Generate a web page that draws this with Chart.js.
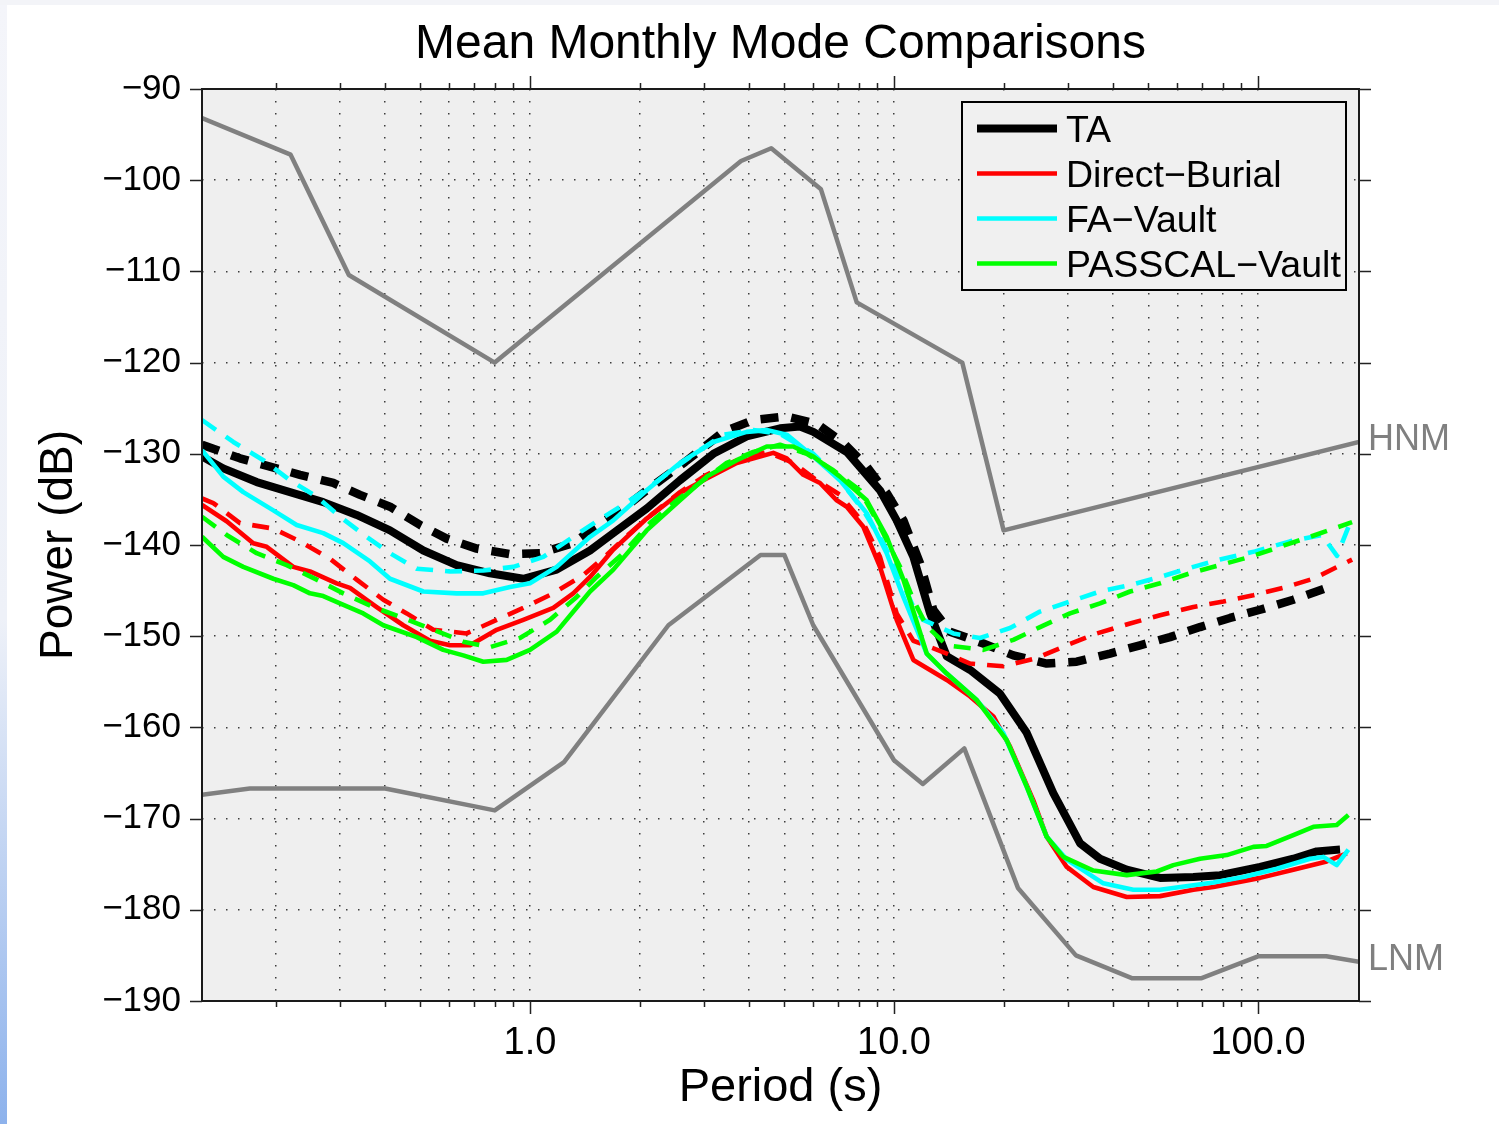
<!DOCTYPE html>
<html>
<head>
<meta charset="utf-8">
<script src="https://cdn.jsdelivr.net/npm/chart.js@4/dist/chart.umd.min.js"></script>
<style>
html,body{margin:0;padding:0;background:#fff;}
#wrap{position:relative;width:1499px;height:1124px;overflow:hidden;}
#lstrip{position:absolute;left:0;top:0;width:7px;height:1124px;background:linear-gradient(#f4f5fa,#eef1f8 55%,#8db2ec);}
#tstrip{position:absolute;left:0;top:0;width:1499px;height:5px;background:#f3f4f8;}
canvas{position:absolute;left:0;top:0;}
</style>
</head>
<body>
<div id="wrap"><div id="lstrip"></div><div id="tstrip"></div><canvas id="c" width="1499" height="1124"></canvas></div>
<script>
// ---------- axis ticks ----------
const xTickValues = [0.2,0.3,0.4,0.5,0.6,0.7,0.8,0.9,1,2,3,4,5,6,7,8,9,10,20,30,40,50,60,70,80,90,100];
const xTickLabels = ['','','','','','','','','1.0','','','','','','','','','10.0','','','','','','','','','100.0'];
const yTickLabels = ['\u2212190','\u2212180','\u2212170','\u2212160','\u2212150','\u2212140','\u2212130','\u2212120','\u2212110','\u2212100','\u221290'];
const legendNames = ['TA','Direct\u2212Burial','FA\u2212Vault','PASSCAL\u2212Vault'];

// ---------- noise models ----------
const hnmP = [0.1256,0.22,0.318,0.8,3.8,4.6,6.3,7.9,15.4,20.0,189.4];
const hnmV = [-93.2,-97.2,-110.4,-120.0,-97.9,-96.5,-101.0,-113.4,-120.0,-138.4,-128.7];
const lnmP = [0.1256,0.17,0.4,0.8,1.24,2.4,4.3,5.0,6.0,10.0,12.0,15.6,21.9,31.6,45,70,100,154,189.4];
const lnmV = [-167.4,-166.7,-166.7,-169.1,-163.8,-148.8,-141.1,-141.1,-148.8,-163.6,-166.2,-162.3,-177.6,-185.0,-187.5,-187.5,-185.1,-185.1,-185.7];

// ---------- TA ----------
const taP = [0.1256,0.1437,0.1775,0.2191,0.2705,0.3341,0.4125,0.5093,0.6289,0.7764,0.9585,1.184,1.462,1.694,2.092,2.583,3.189,3.938,4.862,5.518,6.003,7.416,9.152,10.17,11.30,12.56,13.96,16.18,19.55,23.15,27.39,32.43,36.81,43.59,53.80,66.44,78.64,101.3,125.0,145.0,168.0];
const taV = [-130.3,-131.6,-133.1,-134.2,-135.3,-136.7,-138.4,-140.6,-142.2,-143.1,-143.7,-142.7,-140.6,-138.7,-136.0,-132.9,-130.0,-128.1,-127.2,-127.0,-127.6,-129.8,-134.0,-137.3,-141.3,-147.5,-152.2,-153.7,-156.3,-160.6,-167.2,-172.7,-174.4,-175.6,-176.5,-176.4,-176.2,-175.3,-174.4,-173.6,-173.4];
const taDP = [0.1256,0.1597,0.2334,0.2882,0.3412,0.4125,0.4988,0.5904,0.7138,0.8814,1.065,1.315,1.492,1.804,2.092,2.666,3.396,4.107,5.073,6.133,7.257,8.414,9.548,10.61,11.79,12.82,14.25,17.59,21.27,26.27,31.76,39.21,47.41,57.31,69.29,83.78,101.3,125.0,154.4];
const taDV = [-129.0,-130.5,-132.3,-133.2,-134.5,-135.8,-137.8,-139.3,-140.4,-141.0,-140.9,-139.8,-138.2,-136.0,-134.0,-130.9,-127.6,-126.3,-125.9,-126.7,-128.8,-131.4,-134.3,-137.3,-142.0,-147.1,-149.5,-150.8,-152.1,-153.0,-152.8,-151.9,-151.0,-150.1,-149.0,-148.0,-147.1,-146.0,-144.7];

// ---------- Direct-Burial ----------
const dbP = [0.1256,0.1468,0.1737,0.1891,0.2237,0.2487,0.2944,0.3202,0.3792,0.4487,0.5313,0.6028,0.6842,0.8100,0.9585,1.159,1.315,1.462,1.694,2.092,2.583,3.059,3.698,4.284,4.660,5.073,5.634,6.262,6.961,7.416,8.236,9.152,10.17,11.30,12.56,13.96,16.18,18.75,20.83,24.14,26.27,29.82,35.28,43.59,53.80,66.44,75.40,101.3,125.0,154.4,175.3];
const dbV = [-135.6,-137.4,-139.8,-140.2,-142.4,-142.9,-144.2,-144.7,-146.8,-148.8,-150.5,-151.0,-151.0,-149.3,-148.2,-146.9,-145.3,-143.5,-140.5,-137.1,-134.3,-132.7,-131.0,-130.3,-129.9,-130.5,-132.3,-133.2,-135.1,-135.8,-138.0,-142.4,-148.2,-152.6,-153.7,-154.8,-156.6,-158.8,-162.1,-168.0,-172.0,-175.3,-177.5,-178.6,-178.5,-177.8,-177.5,-176.5,-175.6,-174.7,-173.8];
const dbDP = [0.1256,0.1349,0.1597,0.1972,0.2334,0.2822,0.3341,0.3954,0.4585,0.5425,0.6700,0.8100,0.9585,1.159,1.401,1.624,1.882,2.182,2.583,3.059,3.698,4.470,5.289,6.133,7.107,8.236,9.152,10.17,11.30,13.96,16.18,19.96,24.66,29.82,36.05,44.50,53.80,66.44,80.30,97.07,117.3,141.9,181.3];
const dbDV = [-134.9,-135.4,-137.6,-138.2,-139.6,-141.5,-143.8,-146.0,-147.5,-149.3,-149.7,-148.2,-146.9,-145.3,-143.3,-141.1,-138.7,-136.5,-134.2,-132.3,-130.7,-129.8,-131.0,-132.9,-134.5,-137.6,-141.3,-147.5,-150.5,-151.9,-153.0,-153.3,-152.4,-151.0,-149.7,-148.6,-147.7,-146.8,-146.2,-145.5,-144.7,-143.7,-141.6];

// ---------- FA-Vault ----------
const faP = [0.1256,0.1437,0.1631,0.1972,0.2286,0.2705,0.3070,0.3634,0.4125,0.5093,0.6289,0.7441,0.8814,1.0,1.184,1.462,1.694,2.092,2.583,3.189,3.938,4.470,5.073,6.003,7.107,8.414,9.548,10.61,12.30,13.96,16.88,19.96,23.15,26.27,29.82,37.58,45.44,53.80,66.44,75.40,91.1,112.6,139.0,151.1,164.5,177.1];
const faV = [-129.6,-132.5,-134.2,-136.2,-137.8,-138.7,-139.8,-141.8,-143.7,-145.1,-145.3,-145.3,-144.6,-144.2,-142.4,-139.1,-137.3,-134.0,-131.0,-128.7,-127.6,-127.4,-127.9,-130.3,-132.9,-136.5,-140.9,-145.7,-151.9,-154.1,-157.0,-160.6,-166.5,-172.0,-174.5,-177.1,-177.8,-177.8,-177.3,-177.0,-176.4,-175.5,-174.4,-174.2,-175.1,-173.4];
const faDP = [0.1256,0.1531,0.1851,0.2191,0.2594,0.3006,0.3559,0.4125,0.4885,0.6028,0.7441,0.8998,1.088,1.315,1.525,1.804,2.136,2.529,2.931,3.396,4.107,4.862,6.003,7.107,8.236,9.346,10.39,11.30,12.03,14.55,17.23,20.83,25.18,30.44,36.81,44.50,53.80,66.44,78.64,98.1,122.4,149.9,164.8,181.3];
const faDV = [-126.3,-128.7,-130.7,-132.9,-134.7,-136.9,-139.1,-140.9,-142.6,-142.9,-142.8,-142.4,-141.3,-139.1,-137.4,-135.6,-133.6,-131.4,-129.6,-127.9,-127.4,-127.8,-130.0,-132.9,-136.2,-139.8,-143.5,-146.8,-148.2,-149.7,-150.2,-149.1,-147.3,-146.2,-145.1,-144.4,-143.5,-142.4,-141.6,-140.7,-139.6,-138.9,-141.2,-137.0];

// ---------- PASSCAL-Vault ----------
const pvP = [0.1256,0.1437,0.1631,0.1972,0.2237,0.2487,0.2705,0.3006,0.3483,0.3954,0.4885,0.5778,0.6558,0.7441,0.8630,1.0,1.184,1.462,1.694,2.092,2.583,3.059,3.698,4.470,5.289,6.003,7.107,8.414,9.548,10.61,12.30,13.96,16.88,20.40,23.15,26.27,29.18,35.28,43.59,52.69,58.52,69.29,82.04,97.07,105.6,125.0,141.9,164.5,177.1];
const pvV = [-139.1,-141.3,-142.4,-143.7,-144.4,-145.3,-145.6,-146.4,-147.5,-148.8,-150.1,-151.5,-152.1,-152.8,-152.6,-151.5,-149.5,-145.1,-142.7,-138.4,-135.1,-132.5,-130.7,-129.2,-129.2,-130.3,-132.5,-135.1,-139.1,-143.8,-151.9,-154.1,-157.0,-161.4,-166.5,-172.0,-174.2,-175.7,-176.2,-175.8,-175.1,-174.4,-174.0,-173.1,-173.0,-171.8,-170.9,-170.7,-169.6];
const pvDP = [0.1256,0.1468,0.1775,0.2146,0.2594,0.3070,0.3711,0.4487,0.5425,0.6558,0.7764,0.9387,1.135,1.344,1.525,1.804,2.136,2.529,2.993,3.470,4.107,4.862,5.757,6.812,8.065,9.152,10.39,11.30,12.30,13.96,17.59,21.27,25.18,30.44,36.81,44.50,53.80,65.06,78.64,95.06,114.9,139.0,181.3];
const pvDV = [-136.9,-138.9,-140.9,-142.2,-143.8,-145.3,-146.8,-148.0,-149.3,-150.6,-151.2,-150.2,-148.2,-145.7,-143.5,-140.9,-137.6,-135.1,-132.9,-131.0,-129.8,-129.0,-130.0,-131.8,-134.0,-138.0,-142.4,-146.0,-148.9,-151.0,-151.5,-150.4,-149.0,-147.5,-146.4,-145.1,-144.2,-143.1,-142.2,-141.3,-140.2,-139.1,-137.5];

// ---------- build ----------
const pts = (p, v) => p.map((x, i) => ({x: x, y: v[i]}));
const FONT = '"Liberation Sans", Arial, Helvetica, sans-serif';
Chart.defaults.font.family = FONT;
Chart.defaults.color = '#000';

function ds(label, p, v, color, width, dash, order) {
  return {label, data: pts(p, v), borderColor: color, backgroundColor: color,
    borderWidth: width, borderDash: dash, pointRadius: 0, pointHoverRadius: 0,
    fill: false, tension: 0, borderCapStyle: 'butt', borderJoinStyle: 'round', order};
}
const BLACK = '#000000', RED = '#ff0000', CYAN = '#00ffff', GREEN = '#00ff00', GRAY = '#808080';
const datasets = [
  ds('HNM', hnmP, hnmV, GRAY, 4.5, [], 20),
  ds('LNM', lnmP, lnmV, GRAY, 4.5, [], 20),
  ds('TA', taP, taV, BLACK, 8, [], 9),
  ds('TA dashed', taDP, taDV, BLACK, 8.5, [18, 13], 8),
  ds('Direct\u2212Burial', dbP, dbV, RED, 4.6, [], 7),
  ds('Direct\u2212Burial dashed', dbDP, dbDV, RED, 4.6, [17, 12], 6),
  ds('FA\u2212Vault', faP, faV, CYAN, 4.6, [], 5),
  ds('FA\u2212Vault dashed', faDP, faDV, CYAN, 4.6, [17, 12], 4),
  ds('PASSCAL\u2212Vault', pvP, pvV, GREEN, 4.6, [], 3),
  ds('PASSCAL\u2212Vault dashed', pvDP, pvDV, GREEN, 4.6, [17, 12], 2)
];
const legendStyle = [[BLACK, 8], [RED, 4.5], [CYAN, 4.5], [GREEN, 4.5]];

const deco = {
  id: 'deco',
  beforeDraw(chart) {
    const {ctx, chartArea: a} = chart;
    ctx.save();
    ctx.fillStyle = '#efefef';
    ctx.fillRect(a.left, a.top, a.right - a.left, a.bottom - a.top);
    ctx.restore();
  },
  afterDraw(chart) {
    const {ctx, chartArea: a} = chart;
    const xs = chart.scales.x, ys = chart.scales.y;
    ctx.save();
    // axis box
    ctx.strokeStyle = '#1a1a1a';
    ctx.lineWidth = 2;
    ctx.strokeRect(a.left, a.top, a.right - a.left, a.bottom - a.top);
    // outward ticks
    ctx.lineWidth = 1.5;
    ctx.strokeStyle = '#222';
    ctx.beginPath();
    xs.ticks.forEach((t, i) => {
      const px = Math.round(xs.getPixelForValue(t.value)) + 0.5;
      const len = xTickLabels[i] ? 13 : 6;
      ctx.moveTo(px, a.bottom); ctx.lineTo(px, a.bottom + len);
      ctx.moveTo(px, a.top); ctx.lineTo(px, a.top - len);
    });
    ys.ticks.forEach(t => {
      const py = Math.round(ys.getPixelForValue(t.value)) + 0.5;
      ctx.moveTo(a.left - 12, py); ctx.lineTo(a.left, py);
      ctx.moveTo(a.right, py); ctx.lineTo(a.right + 12, py);
    });
    ctx.stroke();
    // title
    ctx.fillStyle = '#000';
    ctx.font = '48px ' + FONT;
    ctx.textAlign = 'center';
    ctx.textBaseline = 'alphabetic';
    ctx.fillText('Mean Monthly Mode Comparisons', (a.left + a.right) / 2, 58);
    // noise model labels
    ctx.fillStyle = GRAY;
    ctx.font = '36px ' + FONT;
    ctx.textAlign = 'left';
    ctx.fillText('HNM', a.right + 9, ys.getPixelForValue(hnmV[hnmV.length - 1]) + 8);
    ctx.fillText('LNM', a.right + 9, ys.getPixelForValue(lnmV[lnmV.length - 1]) + 8);
    // legend
    const lx = 962, ly = 102, lw = 384, lh = 188;
    ctx.fillStyle = '#f0f0f0';
    ctx.fillRect(lx, ly, lw, lh);
    ctx.strokeStyle = '#000';
    ctx.lineWidth = 2;
    ctx.strokeRect(lx, ly, lw, lh);
    ctx.font = '37.5px ' + FONT;
    ctx.fillStyle = '#000';
    legendNames.forEach((name, i) => {
      const y = 128.5 + i * 45;
      ctx.strokeStyle = legendStyle[i][0];
      ctx.lineWidth = legendStyle[i][1];
      ctx.lineCap = 'butt';
      ctx.beginPath(); ctx.moveTo(977, y); ctx.lineTo(1057, y); ctx.stroke();
      ctx.fillText(name, 1066, y + 13);
    });
    ctx.restore();
  }
};

new Chart(document.getElementById('c'), {
  type: 'line',
  data: {datasets},
  plugins: [deco],
  options: {
    responsive: false,
    devicePixelRatio: 1,
    animation: false,
    events: [],
    layout: {padding: {left: 0, right: 140, top: 89, bottom: 0}},
    plugins: {legend: {display: false}, title: {display: false}, tooltip: {enabled: false}},
    scales: {
      x: {
        type: 'logarithmic',
        position: 'bottom',
        min: 0.1256,
        max: 189.4,
        afterBuildTicks: s => { s.ticks = xTickValues.map(v => ({value: v})); },
        afterFit: s => { s.height = 123; },
        ticks: {autoSkip: false, maxRotation: 0, minRotation: 0, padding: 20,
          font: {size: 38}, color: '#000',
          callback: (v, i) => xTickLabels[i]},
        grid: {color: '#3c3c3c', lineWidth: 1.5, drawTicks: false},
        border: {display: false, dash: [1.5, 10.5]},
        title: {display: true, text: 'Period (s)', font: {size: 47}, color: '#000', padding: {top: 0, bottom: 8}}
      },
      y: {
        type: 'linear',
        position: 'left',
        min: -190,
        max: -90,
        afterFit: s => { s.width = 202; },
        ticks: {stepSize: 10, padding: 21, font: {size: 35}, color: '#000',
          callback: (v, i) => yTickLabels[i]},
        grid: {color: '#3c3c3c', lineWidth: 1.5, drawTicks: false},
        border: {display: false, dash: [1.5, 10.5]},
        title: {display: true, text: 'Power (dB)', font: {size: 46}, color: '#000', padding: {top: 32, bottom: 0}}
      }
    }
  }
});
</script>
</body>
</html>
